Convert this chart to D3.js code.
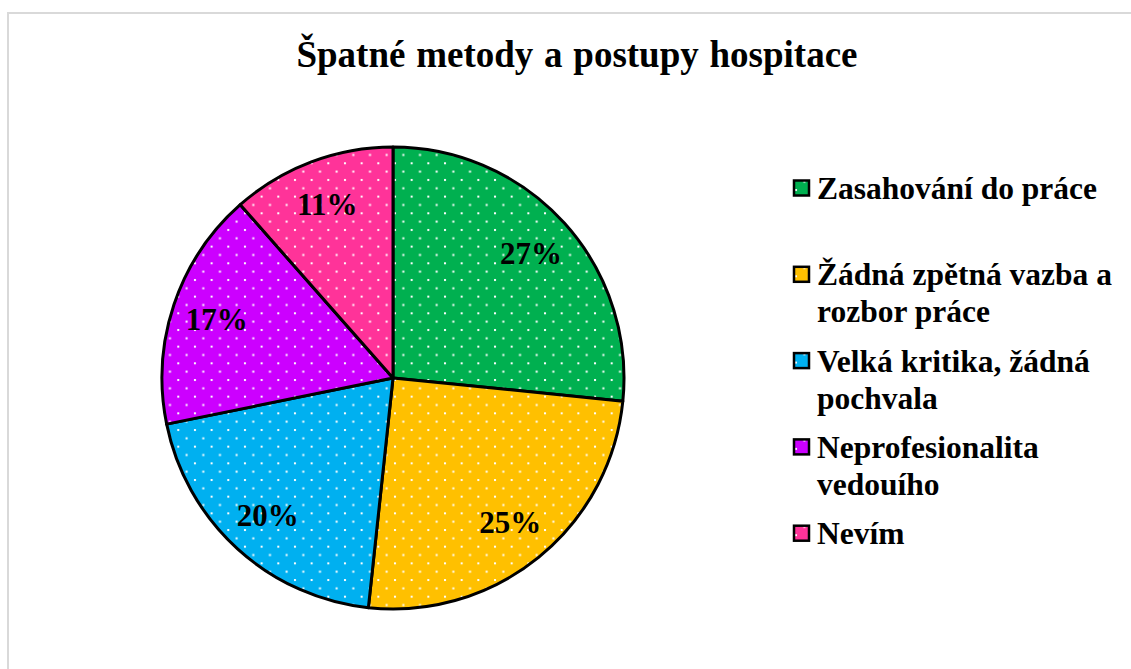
<!DOCTYPE html>
<html lang="cs">
<head>
  <meta charset="UTF-8">
  <title>Špatné metody a postupy hospitace</title>
  <script src="https://d3js.org/d3.v7.min.js"></script>
  <style>
    body { margin: 0; background: #fff; }
    svg { display: block; font-family: "Liberation Serif", "Times New Roman", serif; }
  </style>
</head>
<body>
  <div id="chart"></div>
  <script>
    // data
    const title = "Špatné metody a postupy hospitace";
    const categories = ["Zasahování do práce", "Žádná zpětná vazba a rozbor práce",
      "Velká kritika, žádná pochvala", "Neprofesionalita vedouího", "Nevím"];
    const legendLines = [["Zasahování do práce"], ["Žádná zpětná vazba a", "rozbor práce"],
      ["Velká kritika, žádná", "pochvala"], ["Neprofesionalita", "vedouího"], ["Nevím"]];
    const values = [26.6, 25.1, 20.1, 16.7, 11.5];   // slice sizes as measured
    const labels = ["27%", "25%", "20%", "17%", "11%"];
    const colors = ["#00B050", "#FFC000", "#00B0F0", "#CC00FF", "#FF3399"];

    const width = 1131, height = 669;
    const cx = 393, cy = 378, radius = 231, labelRadius = 186;

    const svg = d3.select("#chart")
      .append("svg")
      .attr("width", width)
      .attr("height", height);

    // chart area border (runs off the right/bottom edge)
    svg.append("rect")
      .attr("x", 8).attr("y", 13)
      .attr("width", width).attr("height", height)
      .attr("fill", "#fff")
      .attr("stroke", "#d9d9d9")
      .attr("stroke-width", 2);

    // dotted fill patterns, one per colour
    const defs = svg.append("defs");
    const step = 16.67;
    colors.forEach((c, i) => {
      const p = defs.append("pattern")
        .attr("id", "dots" + i)
        .attr("patternUnits", "userSpaceOnUse")
        .attr("width", step).attr("height", step);
      p.append("rect").attr("width", step).attr("height", step).attr("fill", c);
      p.append("rect").attr("x", 1).attr("y", 1).attr("width", 2).attr("height", 2).attr("fill", "#fff");
      p.append("rect").attr("x", 1 + step / 2).attr("y", 1 + step / 2).attr("width", 2).attr("height", 2).attr("fill", "#fff");
    });

    svg.append("text")
      .attr("x", 577)
      .attr("y", 67)
      .attr("text-anchor", "middle")
      .attr("font-weight", "bold")
      .attr("font-size", 37)
      .attr("word-spacing", 1.5)
      .text(title);

    const arcs = d3.pie().sort(null).value(d => d)(values);
    const arc = d3.arc().innerRadius(0).outerRadius(radius);
    const arcLabel = d3.arc().innerRadius(labelRadius).outerRadius(labelRadius);

    const g = svg.append("g").attr("transform", `translate(${cx},${cy})`);

    g.append("g")
      .attr("stroke", "#000")
      .attr("stroke-width", 3)
      .attr("stroke-linejoin", "round")
      .selectAll("path")
      .data(arcs)
      .join("path")
      .attr("fill", (d, i) => `url(#dots${i})`)
      .attr("d", arc);

    g.append("g")
      .attr("font-size", 31)
      .attr("font-weight", "bold")
      .attr("text-anchor", "middle")
      .selectAll("text")
      .data(arcs)
      .join("text")
      .attr("transform", d => `translate(${arcLabel.centroid(d)})`)
      .attr("dy", "0.35em")
      .text((d, i) => labels[i]);

    // legend
    const legendX = 794, legendY = 188, entryGap = 86.3, lineGap = 37;
    const legend = svg.append("g")
      .selectAll("g")
      .data(categories)
      .join("g")
      .attr("transform", (d, i) => `translate(${legendX},${legendY + i * entryGap})`);

    legend.append("rect")
      .attr("x", 0).attr("y", -7.5)
      .attr("width", 15).attr("height", 15)
      .attr("fill", (d, i) => `url(#dots${i})`)
      .attr("stroke", "#000")
      .attr("stroke-width", 2.5);

    legend.append("text")
      .attr("font-size", 31.5)
      .attr("font-weight", "bold")
      .selectAll("tspan")
      .data((d, i) => legendLines[i])
      .join("tspan")
      .attr("x", 23)
      .attr("y", (d, j) => j * lineGap)
      .attr("dy", "0.35em")
      .text(d => d);
  </script>
</body>
</html>
